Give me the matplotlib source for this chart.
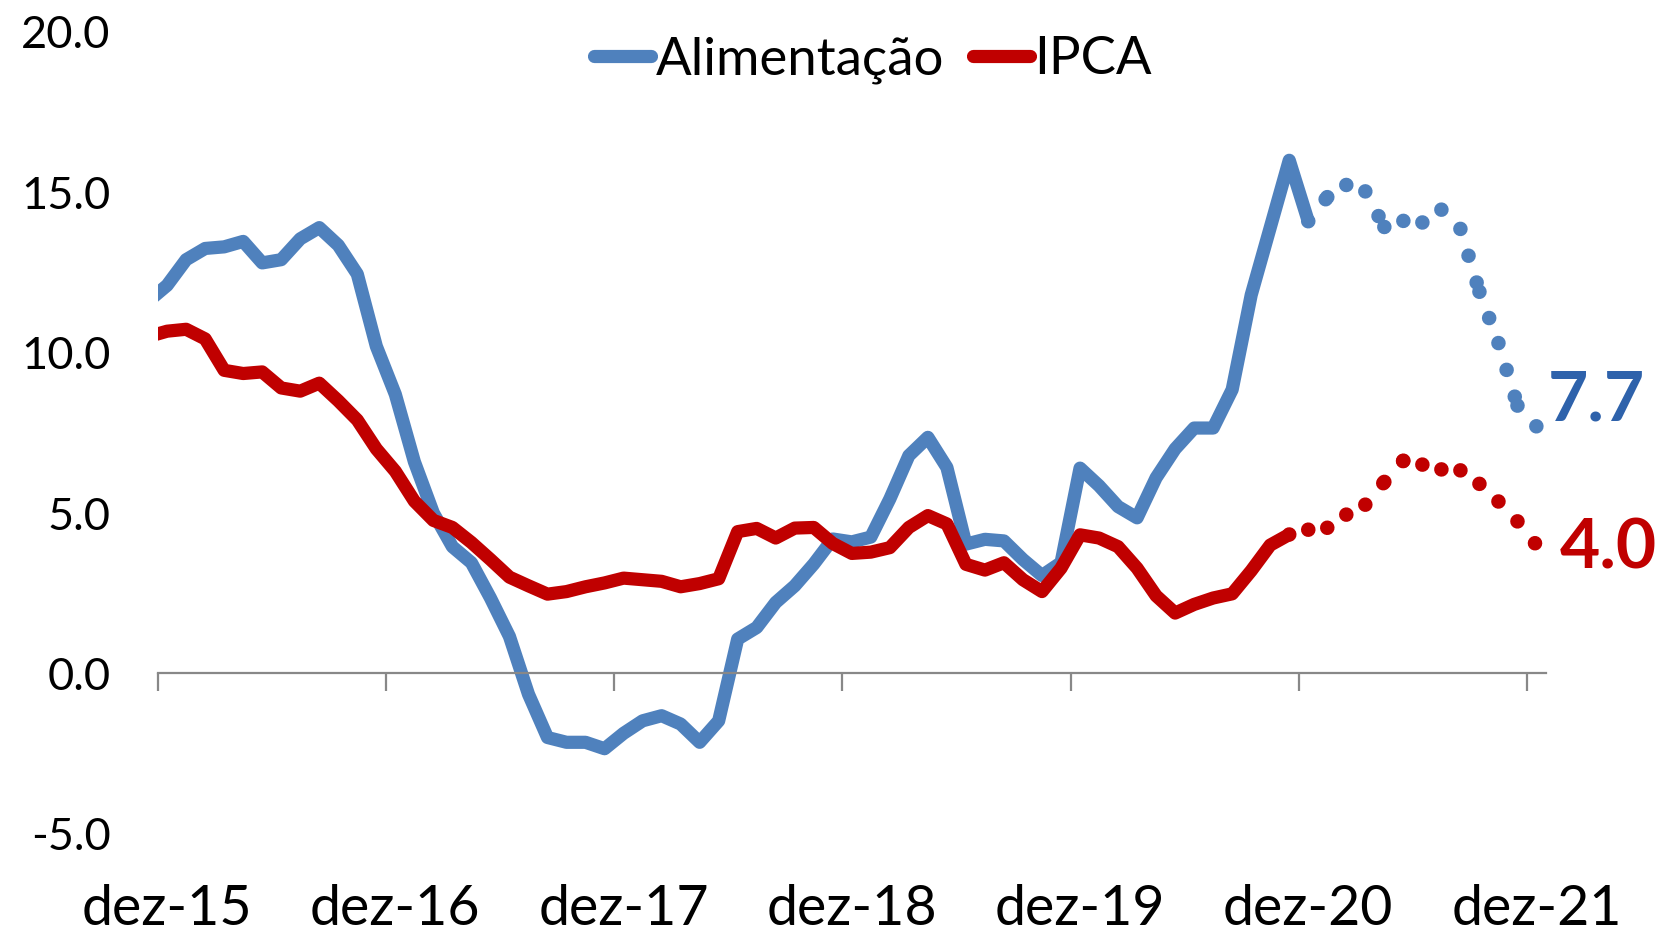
import matplotlib
matplotlib.use("Agg")
import matplotlib.pyplot as plt
import numpy as np
import pandas as pd

plt.rcParams['font.family'] = ['Lato', 'DejaVu Sans']

# ---- data (12-month %), monthly from nov-15 ----
alim_hist = [11.6, 12.1, 12.9, 13.25, 13.3, 13.47, 12.8, 12.9, 13.55, 13.9, 13.35, 12.45, 10.2,
             8.7, 6.6, 5.0, 3.95, 3.45, 2.35, 1.15, -0.65, -2.0, -2.15, -2.15, -2.35,
             -1.87, -1.48, -1.32, -1.58, -2.15, -1.48, 1.07, 1.43, 2.21, 2.73, 3.41, 4.19,
             4.1, 4.25, 5.44, 6.79, 7.36, 6.42, 4.03, 4.18, 4.13, 3.55, 3.05, 3.45,
             6.4, 5.85, 5.2, 4.85, 6.1, 7.0, 7.65, 7.65, 8.85, 11.8, 13.9, 16.0,
             14.1]                                   # nov-15 .. dez-20
ipca_hist = [10.5, 10.67, 10.73, 10.43, 9.45, 9.35, 9.4, 8.9, 8.8, 9.05, 8.5, 7.9, 7.0,
             6.3, 5.37, 4.77, 4.55, 4.08, 3.55, 3.0, 2.73, 2.47, 2.55, 2.7, 2.82,
             2.97, 2.92, 2.87, 2.7, 2.8, 2.95, 4.42, 4.52, 4.22, 4.53, 4.55, 4.05,
             3.74, 3.78, 3.92, 4.55, 4.92, 4.66, 3.4, 3.22, 3.45, 2.92, 2.55, 3.28,
             4.32, 4.22, 3.95, 3.28, 2.42, 1.88, 2.15, 2.35, 2.48, 3.2, 4.0,
             4.33]                                   # nov-15 .. nov-20
alim_proj = [14.1, 14.85, 15.23, 15.03, 13.92, 14.11, 14.06, 14.46, 13.86, 11.9, 10.3, 8.35, 7.7]        # dez-20 .. dez-21
ipca_proj = [4.33, 4.48, 4.54, 4.95, 5.26, 5.97, 6.63, 6.51, 6.36, 6.33, 5.91, 5.36, 4.74, 4.0]          # nov-20 .. dez-21

months = pd.period_range('2015-11', '2021-12', freq='M')
xlabels = ['dez-15', 'dez-16', 'dez-17', 'dez-18', 'dez-19', 'dez-20', 'dez-21']
series_names = ['Alimentação', 'IPCA']
yticks = [-5, 0, 5, 10, 15, 20]

BLUE = '#4F81BD'
BLUE_LBL = '#2E62AB'
RED = '#C00000'
GRAY = '#888888'

x_all = np.arange(len(months))
x_alim_h = x_all[:len(alim_hist)]
x_ipca_h = x_all[:len(ipca_hist)]
x_alim_p = x_all[len(months) - len(alim_proj):]
x_ipca_p = x_all[len(months) - len(ipca_proj):]

W, H = 1670, 934
fig = plt.figure(figsize=(W / 100, H / 100), dpi=100)
left, right, top, bottom = 157.6, 1546, 32, 833.7
ax = fig.add_axes([left / W, 1 - bottom / H, (right - left) / W, (bottom - top) / H])

lw = 9.5
common = dict(solid_capstyle='round', solid_joinstyle='round',
              dash_capstyle='round', dash_joinstyle='round')
l_alim, = ax.plot(x_alim_h, alim_hist, color=BLUE, lw=lw, label=series_names[0], **common)
l_ipca, = ax.plot(x_ipca_h, ipca_hist, color=RED, lw=lw, label=series_names[1], **common)

# projections: round-dot line, pattern restarting on every segment (as in the source chart)
dot_lw = 10.5
dot_style = (0, (0.001, 1.92))
for xs, ys, c in [(x_alim_p, alim_proj, BLUE), (x_ipca_p, ipca_proj, RED)]:
    for i in range(len(xs) - 1):
        ax.plot(xs[i:i + 2], ys[i:i + 2], color=c, lw=dot_lw, linestyle=dot_style, **common)

ax.set_xlim(0.5, len(months) - 0.5)
ax.set_ylim(-5, 20)

for s in ['left', 'right', 'top']:
    ax.spines[s].set_visible(False)
ax.spines['bottom'].set_position(('data', 0))
ax.spines['bottom'].set_color(GRAY)
ax.spines['bottom'].set_linewidth(1.6)

dec_idx = [i for i, p in enumerate(months) if p.month == 12]
ax.set_xticks([i - 0.5 for i in dec_idx])
ax.tick_params(axis='x', direction='out', length=13, width=1.6, color=GRAY, labelbottom=False)

ax.set_yticks(yticks)
ax.set_yticklabels([f'{v:.1f}' for v in yticks])
ax.tick_params(axis='y', length=0, pad=34, labelsize=32.5)

sec = ax.secondary_xaxis(0)
sec.set_xticks(dec_idx)
sec.set_xticklabels(xlabels)
sec.tick_params(axis='x', length=0, pad=36, labelsize=40)
sec.spines['bottom'].set_visible(False)

ax.annotate(f'{alim_proj[-1]:.1f}', xy=(x_alim_p[-1], alim_proj[-1]), xytext=(8, 4),
            textcoords='offset points', ha='left', va='baseline', fontsize=50,
            fontweight='bold', color=BLUE_LBL, annotation_clip=False)
ax.annotate(f'{ipca_proj[-1]:.1f}', xy=(x_ipca_p[-1], ipca_proj[-1]), xytext=(17, -17),
            textcoords='offset points', ha='left', va='baseline', fontsize=50,
            fontweight='bold', color=RED, annotation_clip=False)

fig.legend(handles=[l_alim, l_ipca], labels=series_names, loc='center',
           bbox_to_anchor=(873 / W, 1 - 60 / H), ncol=2, frameon=False,
           handlelength=1.08, handletextpad=0.08, columnspacing=0.55, fontsize=38,
           borderpad=0, borderaxespad=0)

fig.savefig('out.png', dpi=100)
